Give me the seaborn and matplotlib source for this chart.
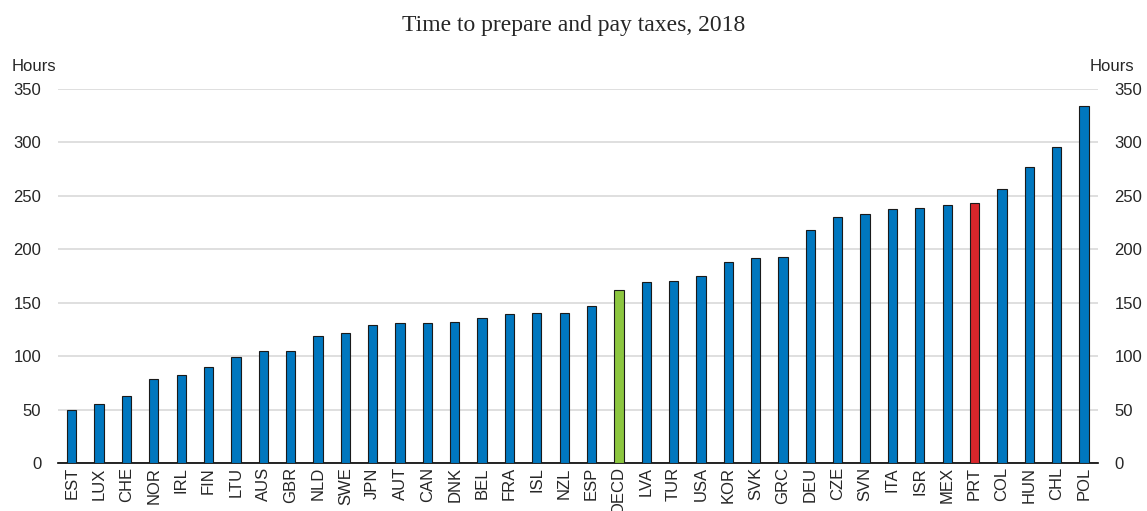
import matplotlib
matplotlib.use('Agg')
import matplotlib.pyplot as plt
import seaborn as sns
import numpy as np
import pandas as pd

countries = ["EST", "LUX", "CHE", "NOR", "IRL", "FIN", "LTU", "AUS", "GBR", "NLD",
             "SWE", "JPN", "AUT", "CAN", "DNK", "BEL", "FRA", "ISL", "NZL", "ESP",
             "OECD", "LVA", "TUR", "USA", "KOR", "SVK", "GRC", "DEU", "CZE", "SVN",
             "ITA", "ISR", "MEX", "PRT", "COL", "HUN", "CHL", "POL"]
hours = [50, 55, 63, 79, 82, 90, 99, 105, 105, 119,
         122, 129, 131, 131, 132, 136, 139, 140, 140, 147,
         162, 169, 170, 175, 188, 192, 193, 218, 230, 233,
         238, 239, 241, 243, 256, 277, 296, 334]
yticks = [0, 50, 100, 150, 200, 250, 300, 350]

BLUE = "#0077BF"
GREEN = "#8CC63F"
RED = "#D9262B"
palette = {c: (GREEN if c == "OECD" else RED if c == "PRT" else BLUE) for c in countries}

df = pd.DataFrame({"country": countries, "hours": hours})

sns.set_style("white")
plt.rcParams['font.family'] = ['Liberation Sans', 'DejaVu Sans']

fig = plt.figure(figsize=(11.47, 5.11), dpi=100)
ax = fig.add_axes([0.0506, 0.094, 0.9064, 0.732])

sns.barplot(data=df, x="country", y="hours", hue="country", palette=palette,
            saturation=1, width=0.34, edgecolor="#1a1a1a", linewidth=0.8,
            legend=False, ax=ax, zorder=3)

ax.set_xlim(-0.5, len(countries) - 0.5)
ax.set_ylim(0, 350)
ax.set_yticks(yticks)
ax.grid(axis="y", color="#d9d9d9", linewidth=1.2, zorder=0)
ax.set_axisbelow(True)
for s in ["left", "right", "top"]:
    ax.spines[s].set_visible(False)
ax.spines["bottom"].set_color("black")
ax.spines["bottom"].set_linewidth(1.2)

ax.set_xlabel("")
ax.set_ylabel("")
ax.tick_params(axis="x", which="major", length=0, labelsize=12, rotation=90, pad=3)
ax.set_xticks(np.arange(len(countries) + 1) - 0.5, minor=True)
ax.tick_params(axis="x", which="minor", direction="in", length=5, width=1.2, color="black")
ax.tick_params(axis="y", length=0, labelsize=12, pad=12)

ax2 = ax.twinx()
ax2.set_ylim(0, 350)
ax2.set_yticks(yticks)
ax2.tick_params(axis="y", length=0, labelsize=12, pad=12)
for s in ["left", "right", "top", "bottom"]:
    ax2.spines[s].set_visible(False)

fig.text(0.0105, 0.855, "Hours", fontsize=12, ha="left", va="bottom")
fig.text(0.989, 0.855, "Hours", fontsize=12, ha="right", va="bottom")
fig.text(0.5, 0.93, "Time to prepare and pay taxes, 2018", fontsize=17,
         ha="center", va="bottom", family=["Liberation Serif", "DejaVu Serif"])

fig.savefig("out.png", dpi=100)
